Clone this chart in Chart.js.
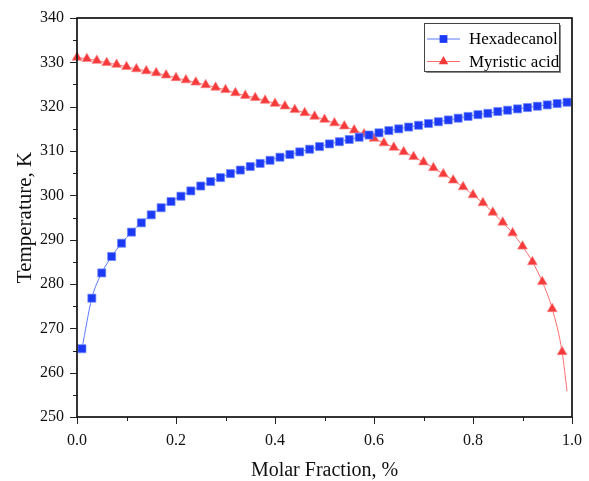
<!DOCTYPE html>
<html>
<head>
<meta charset="utf-8">
<script src="https://cdn.jsdelivr.net/npm/chart.js@4.4.1/dist/chart.umd.min.js"></script>
<style>
  body { margin: 0; background: #ffffff; }
  #chart { display: block; }
</style>
</head>
<body>
<canvas id="chart" width="589" height="481"></canvas>
<script>
// molar fraction (x) and temperature, K (y)
let hexX = [0.01, 0.03, 0.05, 0.07, 0.09, 0.11, 0.13, 0.15, 0.17, 0.19,
            0.21, 0.23, 0.25, 0.27, 0.29, 0.31, 0.33, 0.35, 0.37, 0.39,
            0.41, 0.43, 0.45, 0.47, 0.49, 0.51, 0.53, 0.55, 0.57, 0.59,
            0.61, 0.63, 0.65, 0.67, 0.69, 0.71, 0.73, 0.75, 0.77, 0.79,
            0.81, 0.83, 0.85, 0.87, 0.89, 0.91, 0.93, 0.95, 0.97, 0.99];
let hexT = [265.4, 276.8, 282.5, 286.2, 289.2, 291.7, 293.8, 295.6, 297.2, 298.6,
            299.8, 301.0, 302.1, 303.1, 304.0, 304.9, 305.7, 306.5, 307.2, 307.9,
            308.6, 309.2, 309.8, 310.4, 311.0, 311.6, 312.1, 312.6, 313.1, 313.6,
            314.1, 314.6, 315.0, 315.4, 315.8, 316.2, 316.6, 317.0, 317.4, 317.8,
            318.2, 318.5, 318.9, 319.2, 319.5, 319.8, 320.1, 320.4, 320.7, 321.0];
let myrX = [0.00, 0.02, 0.04, 0.06, 0.08, 0.10, 0.12, 0.14, 0.16, 0.18,
            0.20, 0.22, 0.24, 0.26, 0.28, 0.30, 0.32, 0.34, 0.36, 0.38,
            0.40, 0.42, 0.44, 0.46, 0.48, 0.50, 0.52, 0.54, 0.56, 0.58,
            0.60, 0.62, 0.64, 0.66, 0.68, 0.70, 0.72, 0.74, 0.76, 0.78,
            0.80, 0.82, 0.84, 0.86, 0.88, 0.90, 0.92, 0.94, 0.96, 0.98, 0.99];
let myrT = [331.1, 330.8, 330.4, 329.9, 329.5, 329.0, 328.5, 328.05, 327.6, 327.1,
            326.5, 326.0, 325.5, 324.9, 324.35, 323.8, 323.1, 322.5, 322.0, 321.4,
            320.7, 320.1, 319.3, 318.6, 317.8, 317.1, 316.3, 315.6, 314.7, 313.8,
            312.85, 311.8, 310.8, 309.8, 308.7, 307.5, 306.2, 304.8, 303.4, 301.9,
            300.1, 298.3, 296.15, 293.9, 291.5, 288.5, 285.0, 280.5, 274.4, 264.7, 255.8];

let seriesNames = ['Hexadecanol', 'Myristic acid'];
let xTitle = 'Molar Fraction, %';
let yTitle = 'Temperature, K';

let serif = '"Liberation Serif", "Times New Roman", serif';
let blue = 'rgb(28, 58, 245)';
let blueLine = 'rgb(90, 120, 255)';
let red = 'rgb(244, 58, 58)';
let redLine = 'rgb(255, 110, 110)';

function toPoints(xs, ys){
    return xs.map((x, i) => ({x: x, y: ys[i]}));
}

function drawMarker(ctx, style, x, y, r, color){
    ctx.save();
    ctx.fillStyle = color;
    ctx.beginPath();
    if(style === 'rect'){
        let s = r * Math.SQRT2 / 2;
        ctx.rect(x - s, y - s, 2 * s, 2 * s);
    } else {
        ctx.moveTo(x, y - r);
        ctx.lineTo(x + r * 0.866, y + r * 0.5);
        ctx.lineTo(x - r * 0.866, y + r * 0.5);
        ctx.closePath();
    }
    ctx.fill();
    ctx.restore();
}

// frame, tick marks (major/minor) and boxed legend
let framePlugin = {
    id: 'frame',
    afterDraw(chart){
        let ctx = chart.ctx;
        let a = chart.chartArea;
        ctx.save();
        ctx.strokeStyle = '#222';
        ctx.lineWidth = 1;
        let xs = chart.scales.x;
        xs.ticks.forEach(t => {
            let px = Math.round(xs.getPixelForValue(t.value)) + 0.5;
            let len = t.label !== '' ? 7 : 4;
            ctx.beginPath();
            ctx.moveTo(px, a.bottom);
            ctx.lineTo(px, a.bottom + len);
            ctx.stroke();
        });
        let ys = chart.scales.y;
        ys.ticks.forEach(t => {
            let py = Math.round(ys.getPixelForValue(t.value)) + 0.5;
            let len = t.label !== '' ? 7 : 4;
            ctx.beginPath();
            ctx.moveTo(a.left, py);
            ctx.lineTo(a.left - len, py);
            ctx.stroke();
        });
        ctx.lineWidth = 1.7;
        ctx.strokeStyle = '#111';
        ctx.strokeRect(a.left, a.top, a.right - a.left, a.bottom - a.top);

        // legend
        let lx = a.right - 148, ly = a.top + 5, lw = 135, lh = 48;
        ctx.fillStyle = '#8a8a8a';
        ctx.fillRect(lx + 2, ly + 2, lw, lh);
        ctx.fillStyle = '#ffffff';
        ctx.fillRect(lx, ly, lw, lh);
        ctx.lineWidth = 1;
        ctx.strokeStyle = '#444';
        ctx.strokeRect(lx + 0.5, ly + 0.5, lw, lh);
        ctx.font = '17px ' + serif;
        ctx.textBaseline = 'middle';
        ctx.textAlign = 'left';
        chart.data.datasets.forEach((ds, i) => {
            let rowY = ly + 16 + i * 22.5;
            ctx.strokeStyle = ds.borderColor;
            ctx.beginPath();
            ctx.moveTo(lx + 3, rowY);
            ctx.lineTo(lx + 36, rowY);
            ctx.stroke();
            drawMarker(ctx, ds.pointStyle, lx + 19.5, rowY, 5.5, ds.pointBackgroundColor);
            ctx.fillStyle = '#000';
            ctx.fillText(ds.label, lx + 45, rowY + 1);
        });
        ctx.restore();
    }
};

let ctx = document.getElementById('chart');
new Chart(ctx, {
    type: 'line',
    data: {
        datasets: [{
            label: seriesNames[0],
            data: toPoints(hexX, hexT),
            borderColor: blueLine,
            borderWidth: 1,
            pointStyle: 'rect',
            pointRadius: 5.7,
            pointBackgroundColor: blue,
            pointBorderColor: 'rgba(110, 135, 255, 0.7)',
            pointBorderWidth: 1,
            cubicInterpolationMode: 'monotone',
            clip: false
        }, {
            label: seriesNames[1],
            data: toPoints(myrX, myrT),
            borderColor: redLine,
            borderWidth: 1,
            pointStyle: 'triangle',
            pointRadius: c => c.dataIndex === myrX.length - 1 ? 0 : 5.6,
            pointBackgroundColor: red,
            pointBorderColor: 'rgba(255, 130, 130, 0.7)',
            pointBorderWidth: 1,
            cubicInterpolationMode: 'monotone',
            clip: false
        }]
    },
    options: {
        responsive: false,
        animation: false,
        devicePixelRatio: 1,
        layout: { padding: { left: 0, right: 17, top: 18, bottom: 0 } },
        plugins: {
            legend: { display: false },
            tooltip: { enabled: false }
        },
        scales: {
            x: {
                type: 'linear',
                min: 0,
                max: 1,
                grid: { display: false, drawTicks: false },
                border: { display: false },
                ticks: {
                    stepSize: 0.1,
                    padding: 14,
                    color: '#111',
                    font: { family: serif, size: 16 },
                    maxRotation: 0,
                    autoSkip: false,
                    callback: function(value, index){
                        return index % 2 === 0 ? value.toFixed(1) : '';
                    }
                },
                title: {
                    display: true,
                    text: xTitle,
                    color: '#111',
                    font: { family: serif, size: 20, lineHeight: 1 },
                    padding: 0
                },
                afterFit: function(scale){
                    scale.height = 64;
                    scale.paddingLeft = 0;
                    scale.paddingRight = 0;
                }
            },
            y: {
                min: 250,
                max: 340,
                grid: { display: false, drawTicks: false },
                border: { display: false },
                ticks: {
                    stepSize: 5,
                    padding: 13,
                    color: '#111',
                    font: { family: serif, size: 16 },
                    autoSkip: false,
                    callback: function(value){
                        return value % 10 === 0 ? String(value) : '';
                    }
                },
                title: {
                    display: true,
                    text: yTitle,
                    color: '#111',
                    font: { family: serif, size: 21, lineHeight: 1 },
                    padding: { top: 15, bottom: 0 }
                },
                afterFit: function(scale){
                    scale.width = 77;
                    scale.paddingTop = 0;
                    scale.paddingBottom = 0;
                }
            }
        }
    },
    plugins: [framePlugin]
});
</script>
</body>
</html>
